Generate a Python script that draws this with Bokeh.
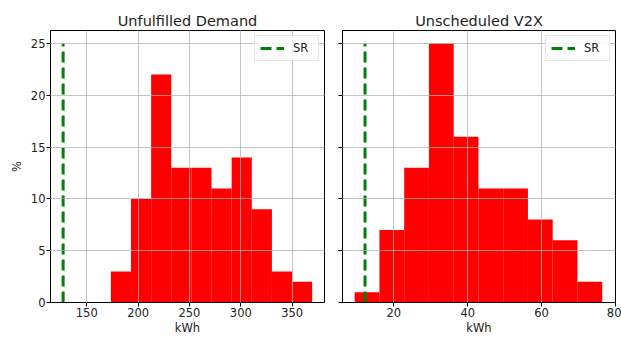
from bokeh.plotting import figure
from bokeh.layouts import row
from bokeh.models import Range1d, FixedTicker
from bokeh.embed import file_html
from bokeh.resources import INLINE

# ---- data ----
demand_edges = [173.5, 193.1, 212.7, 232.3, 251.9, 271.5, 291.1, 310.7, 330.3, 349.9, 369.5]
demand_pct = [3, 10, 22, 13, 13, 11, 14, 9, 3, 2]
demand_sr = 127.0

v2x_edges = [9.4, 16.1, 22.8, 29.5, 36.2, 42.9, 49.6, 56.3, 63.0, 69.7, 76.4]
v2x_pct = [1, 7, 13, 25, 16, 11, 11, 8, 6, 2]
v2x_sr = 12.2

sr_y = [0, 25]
y_ticks = [0, 5, 10, 15, 20, 25]
demand_ticks = [150, 200, 250, 300, 350]
v2x_ticks = [20, 40, 60, 80]

FONT = "DejaVu Sans"


def make_panel(title, edges, pct, sr, xr, xticks, show_ylabels, width, bl, br):
    p = figure(width=width, height=338, output_backend="svg", toolbar_location=None,
               x_range=Range1d(*xr), y_range=Range1d(0, 26.25),
               min_border_left=bl, min_border_right=br, min_border_top=30, min_border_bottom=36)
    p.title.text = title
    p.title.align = "center"
    p.title.text_font = FONT
    p.title.text_font_size = "14.5px"
    p.title.text_font_style = "normal"
    p.title.text_color = "#222222"
    p.title.offset = 0
    p.title.standoff = 4

    p.quad(left=edges[:-1], right=edges[1:], top=pct, bottom=0,
           fill_color="#ff0000", line_color=None)
    p.line(x=[sr, sr], y=sr_y, line_color="#008000", line_width=3,
           line_dash="11 5", legend_label="SR")

    for ax in (p.xaxis, p.yaxis):
        ax.axis_line_color = "black"
        ax.major_tick_line_color = "black"
        ax.major_tick_out = 4
        ax.major_tick_in = 0
        ax.minor_tick_line_color = None
        ax.major_label_text_font = FONT
        ax.major_label_text_font_size = "11.5px"
        ax.major_label_text_color = "#222222"
        ax.axis_label_text_font = FONT
        ax.axis_label_text_font_size = "11.5px"
        ax.axis_label_text_font_style = "normal"
        ax.axis_label_text_color = "#222222"
        ax.major_label_standoff = 1
        ax.axis_label_standoff = 1
    p.xaxis.ticker = FixedTicker(ticks=xticks)
    p.yaxis.ticker = FixedTicker(ticks=y_ticks)
    p.xaxis.axis_label = "kWh"
    if show_ylabels:
        p.yaxis.axis_label = "%"
        p.yaxis.axis_label_standoff = 4
    else:
        p.yaxis.major_label_overrides = {t: "" for t in y_ticks}
        p.yaxis.major_label_standoff = 0

    p.outline_line_color = "black"
    p.outline_line_width = 1
    for g in (p.xgrid, p.ygrid):
        g.grid_line_color = "#b0b0b0"
        g.grid_line_alpha = 0.75
        g.grid_line_width = 1
        g.level = "guide"

    lg = p.legend[0]
    lg.location = "top_right"
    lg.margin = 5
    lg.padding = 5
    lg.spacing = 0
    lg.glyph_width = 24
    lg.glyph_height = 12
    lg.label_standoff = 9
    lg.label_text_font = FONT
    lg.label_text_font_size = "11.5px"
    lg.label_text_color = "#222222"
    lg.border_line_color = "#cccccc"
    lg.background_fill_alpha = 0.8
    return p


p1 = make_panel("Unfulfilled Demand", demand_edges, demand_pct, demand_sr,
                (114.7, 381.5), demand_ticks, True, 330, 50, 6)
p2 = make_panel("Unscheduled V2X", v2x_edges, v2x_pct, v2x_sr,
                (6.1, 80.0), v2x_ticks, False, 291, 12, 6)

layout = row(p1, p2)
open("out.html", "w").write(file_html(layout, INLINE))
